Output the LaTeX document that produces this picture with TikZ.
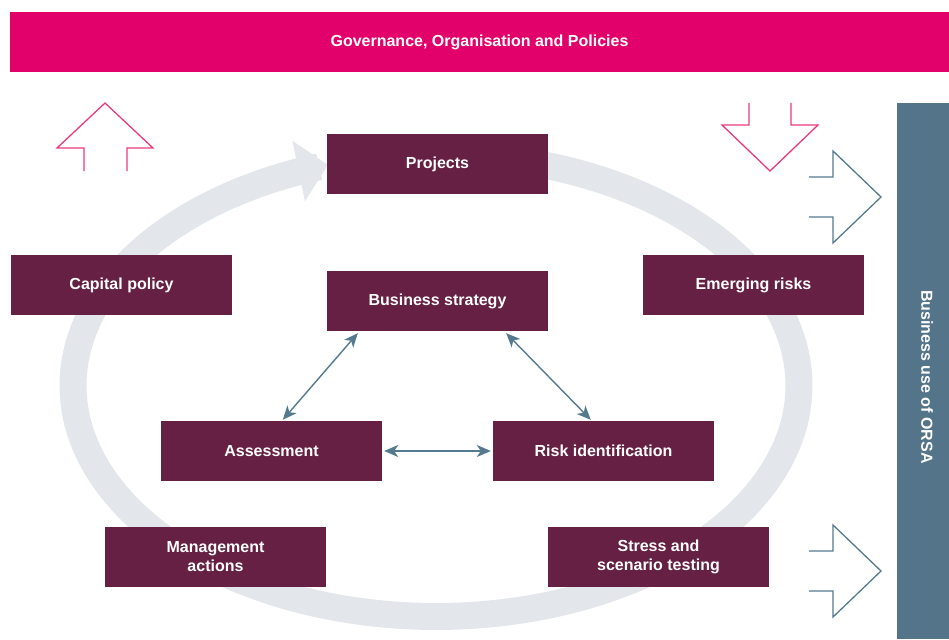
\documentclass[tikz,border=0pt]{standalone}
\usepackage{fontspec}
\setmainfont{Liberation Sans}
\usetikzlibrary{arrows.meta}
\definecolor{govpink}{HTML}{E2006A}
\definecolor{linepink}{HTML}{E83A80}
\definecolor{maroon}{HTML}{662043}
\definecolor{orsablue}{HTML}{537489}
\definecolor{arrowblue}{HTML}{557A8F}
\definecolor{ringgray}{HTML}{E3E6EA}
\begin{document}
\begin{tikzpicture}[x=1pt,y=-1pt,
  box/.style={fill=maroon, text=white, minimum width=221pt, minimum height=60pt, inner sep=0pt, align=center, font=\bfseries\fontsize{16}{19}\selectfont},
  link/.style={{Stealth[length=14pt,width=12pt,inset=4pt]}-{Stealth[length=14pt,width=12pt,inset=4pt]}, arrowblue, line width=1.4pt}]
\useasboundingbox (0,0) rectangle (949,639);
% the big grey cycle
\draw[ringgray, line width=27pt, -{Triangle[width=60pt,length=30pt]}] plot[domain=75:-252.7, samples=140, smooth] ({436+363*cos(\x)},{385.5-231*sin(\x)});
% bars
\node[fill=govpink, text=white, minimum width=939pt, minimum height=60pt, inner sep=0pt, font=\bfseries\fontsize{16}{19}\selectfont] (gov) at (479.5,42) {Governance, Organisation and Policies};
\node[fill=orsablue, minimum width=52pt, minimum height=536pt, inner sep=0pt] (orsa) at (923,371) {};
\node[rotate=-90, text=white, font=\bfseries\fontsize{16}{19}\selectfont] (orsatext) at (927,377) {Business use of ORSA};
% outline arrows
\draw[linepink, line width=1.3pt] (84,171) -- (84,148) -- (57,148) -- (105,103) -- (153,148) -- (127,148) -- (127,171);
\draw[linepink, line width=1.3pt] (749,103) -- (749,125) -- (722,125) -- (770,171) -- (818,125) -- (791,125) -- (791,103);
\foreach \y in {197,571} % arrows into the ORSA bar
\draw[arrowblue, line width=1.3pt] (809,\y-20) -- (833,\y-20) -- (833,\y-46) -- (881,\y) -- (833,\y+46) -- (833,\y+20) -- (809,\y+20);
% boxes
\node[box] (proj) at (437.5,164) {Projects};
\node[box] (cap) at (121.5,285) {Capital policy};
\node[box] (bs) at (437.5,301) {Business strategy};
\node[box] (emr) at (753.5,285) {Emerging risks};
\node[box] (as) at (271.5,451) {Assessment};
\node[box] (ri) at (603.5,451) {Risk identification};
\node[box] (man) at (215.5,557) {Management\\actions};
\node[box] (sst) at (658.5,557) {Stress and\\scenario testing};
% links
\draw[link] ([xshift=31pt,yshift=-2pt]bs.south west) -- ([xshift=122pt,yshift=1pt]as.north west);
\draw[link] ([xshift=-42pt,yshift=-2pt]bs.south east) -- ([xshift=98pt,yshift=1pt]ri.north west);
\draw[link] ([xshift=2pt]as.east) -- ([xshift=-2pt]ri.west);
\end{tikzpicture}
\end{document}
